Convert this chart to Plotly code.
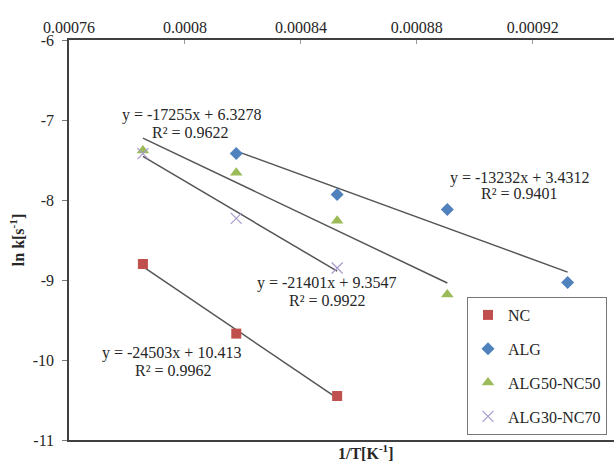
import plotly.graph_objects as go

# ---- data ----
series_names = ["NC", "ALG", "ALG50-NC50", "ALG30-NC70"]
nc_x = [0.0007855, 0.0008177, 0.0008525]
nc_y = [-8.80, -9.67, -10.45]
alg_x = [0.0008177, 0.0008525, 0.0008905, 0.0009320]
alg_y = [-7.42, -7.93, -8.12, -9.03]
a50_x = [0.0007855, 0.0008177, 0.0008525, 0.0008905]
a50_y = [-7.38, -7.66, -8.26, -9.18]
a30_x = [0.0007855, 0.0008177, 0.0008525]
a30_y = [-7.42, -8.23, -8.85]

# trendline coefficients (as printed on chart)
slopes = [-24503, -13232, -17255, -21401]
intercepts = [10.413, 3.4312, 6.3278, 9.3547]
eq_texts = ["y = -24503x + 10.413", "y = -13232x + 3.4312",
            "y = -17255x + 6.3278", "y = -21401x + 9.3547"]
r2_texts = ["R² = 0.9962", "R² = 0.9401", "R² = 0.9622", "R² = 0.9922"]

x_tickvals = [0.00076, 0.00080, 0.00084, 0.00088, 0.00092]
x_ticktext = ["0.00076", "0.0008", "0.00084", "0.00088", "0.00092"]
y_tickvals = [-6, -7, -8, -9, -10, -11]
y_ticktext = ["-6", "-7", "-8", "-9", "-10", "-11"]

FONT = "Liberation Serif"
TXT = "#262626"
xs = [nc_x, alg_x, a50_x, a30_x]
ys = [nc_y, alg_y, a50_y, a30_y]
markers = [
    dict(symbol="square", size=10, color="#C0504D"),
    dict(symbol="diamond", size=10, color="#4F81BD"),
    dict(symbol="triangle-up", size=11, color="#9BBB59"),
    dict(symbol="x-thin-open", size=11, color="#A99BCB",
         line=dict(color="#A99BCB", width=1.2)),
]

fig = go.Figure()

# trendlines
for i in range(4):
    x0, x1 = xs[i][0], xs[i][-1]
    fig.add_trace(go.Scatter(
        x=[x0, x1], y=[slopes[i] * x0 + intercepts[i], slopes[i] * x1 + intercepts[i]],
        mode="lines", line=dict(color="#555555", width=1.5),
        showlegend=False, hoverinfo="skip"))

# points
for i in range(4):
    fig.add_trace(go.Scatter(
        x=xs[i], y=ys[i], mode="markers", name=series_names[i],
        marker=markers[i], legendgroup=series_names[i]))

# equation label positions (data coords): [eq_x, eq_y, r2_x, r2_y]
label_pos = [
    (0.0007953, -9.916, 0.0007960, -10.134),
    (0.0009155, -7.729, 0.0009153, -7.916),
    (0.0008022, -6.9375, 0.0008020, -7.159),
    (0.0008488, -9.041, 0.0008491, -9.25),
]
for i in range(4):
    ex, ey, rx, ry = label_pos[i]
    fig.add_annotation(x=ex, y=ey, xref="x", yref="y", text=eq_texts[i],
                       showarrow=False, xanchor="center", yanchor="middle",
                       font=dict(family=FONT, size=16, color=TXT))
    fig.add_annotation(x=rx, y=ry, xref="x", yref="y", text=r2_texts[i],
                       showarrow=False, xanchor="center", yanchor="middle",
                       font=dict(family=FONT, size=16, color=TXT))

# x axis title at bottom (Excel draws it under the plot)
fig.add_annotation(x=(366 - 69) / 545, y=-12 / 400, xref="paper", yref="paper",
                   text="<b>1/T[K<sup>-1</sup>]</b>", showarrow=False,
                   xanchor="center", yanchor="middle",
                   font=dict(family=FONT, size=16, color=TXT))

fig.update_layout(
    width=614, height=461,
    margin=dict(l=69, r=0, t=40, b=21, autoexpand=False),
    paper_bgcolor="white", plot_bgcolor="white",
    font=dict(family=FONT, size=16, color=TXT),
    showlegend=True,
    legend=dict(x=(467 - 69) / 545, y=(440 - 297) / 400, xanchor="left", yanchor="top",
                bordercolor="#777777", borderwidth=1, bgcolor="white",
                font=dict(family=FONT, size=16, color=TXT),
                tracegroupgap=10, itemwidth=30),
    xaxis=dict(side="top", range=[0.00076, 0.000948], tickvals=x_tickvals,
               ticktext=x_ticktext, ticks="inside", ticklen=4, tickcolor="#999999",
               showline=True, linecolor="#404040", linewidth=1.5, mirror=True,
               showgrid=False, zeroline=False, ticklabelstandoff=-1, automargin=False,
               tickfont=dict(family=FONT, size=16, color=TXT)),
    yaxis=dict(range=[-11, -6], tickvals=y_tickvals, ticktext=y_ticktext,
               ticks="outside", ticklen=5,
               tickcolor="#777777", showline=True, linecolor="#404040", linewidth=1.5,
               showgrid=False, zeroline=False, ticklabelstandoff=5, automargin=False,
               tickfont=dict(family=FONT, size=16, color=TXT),
               title=dict(text="<b>ln k[s<sup>-1</sup>]</b>", standoff=4,
                          font=dict(family=FONT, size=16, color=TXT))),
)

fig.write_html("out.html", config={"displayModeBar": False},
               post_script="document.body.style.margin='0';"
                           "document.body.style.overflow='hidden';")
